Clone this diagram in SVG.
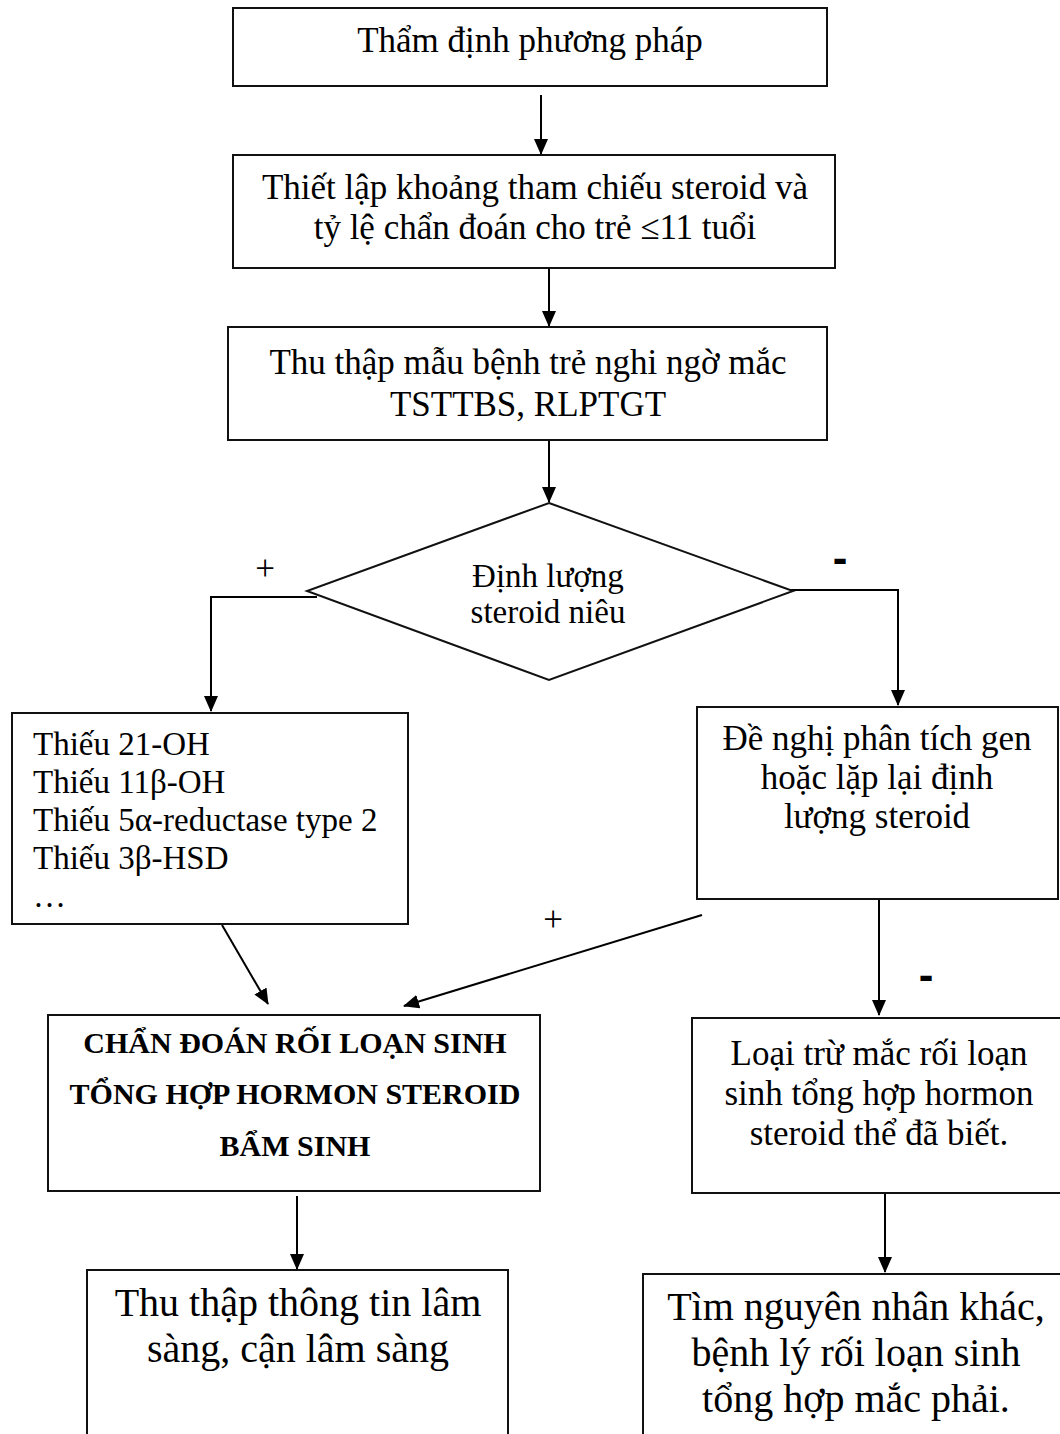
<svg xmlns="http://www.w3.org/2000/svg" width="1060" height="1434" viewBox="0 0 1060 1434">
<style>
.box{fill:#fff;stroke:#111;stroke-width:2}
.t{font-family:"Liberation Serif","Times New Roman",serif;fill:#000;text-anchor:middle}
.tl{font-family:"Liberation Serif","Times New Roman",serif;fill:#000;text-anchor:start}
.b{font-weight:bold}
.c{fill:none;stroke:#000;stroke-width:2}
.plus{font-family:"Liberation Serif","Times New Roman",serif;fill:#000;text-anchor:middle;font-size:35px}
.minus{font-family:"Liberation Sans",Arial,sans-serif;font-weight:bold;fill:#000;text-anchor:middle;font-size:44px}
</style>
<defs>
<marker id="ah" markerUnits="userSpaceOnUse" markerWidth="16" markerHeight="14" refX="15" refY="7" orient="auto">
<path d="M0,0 L16,7 L0,14 Z" fill="#000"/>
</marker>
</defs>
<rect width="1060" height="1434" fill="#fff"/>
<g id="connectors">
<line class="c" x1="541" y1="95" x2="541" y2="154" marker-end="url(#ah)"/>
<line class="c" x1="549" y1="268" x2="549" y2="326" marker-end="url(#ah)"/>
<line class="c" x1="549" y1="440" x2="549" y2="502" marker-end="url(#ah)"/>
<polyline class="c" points="317,597 211,597 211,711" marker-end="url(#ah)"/>
<polyline class="c" points="790,590 898,590 898,705" marker-end="url(#ah)"/>
<line class="c" x1="222" y1="925" x2="268" y2="1004" marker-end="url(#ah)"/>
<line class="c" x1="702" y1="915" x2="404" y2="1006" marker-end="url(#ah)"/>
<line class="c" x1="879" y1="899" x2="879" y2="1015" marker-end="url(#ah)"/>
<line class="c" x1="297" y1="1196" x2="297" y2="1269" marker-end="url(#ah)"/>
<line class="c" x1="885" y1="1193" x2="885" y2="1272" marker-end="url(#ah)"/>
<text class="plus" x="265" y="580">+</text>
<text class="minus" x="840" y="573">-</text>
<text class="plus" x="553" y="931">+</text>
<text class="minus" x="926" y="990">-</text>
</g>
<g id="n1">
<rect class="box" x="233" y="8" width="594" height="78"/>
<text class="t" x="530" y="52" font-size="35">Thẩm định phương pháp</text>
</g>
<g id="n2">
<rect class="box" x="233" y="155" width="602" height="113"/>
<text class="t" x="535" y="199" font-size="35">Thiết lập khoảng tham chiếu steroid và</text>
<text class="t" x="535" y="239" font-size="35">tỷ lệ chẩn đoán cho trẻ ≤11 tuổi</text>
</g>
<g id="n3">
<rect class="box" x="228" y="327" width="599" height="113"/>
<text class="t" x="528" y="374" font-size="35">Thu thập mẫu bệnh trẻ nghi ngờ mắc</text>
<text class="t" x="528" y="416" font-size="35">TSTTBS, RLPTGT</text>
</g>
<g id="n4">
<polygon class="box" points="549,503 793,591 549,680 307,591"/>
<text class="t" x="548" y="587" font-size="33">Định lượng</text>
<text class="t" x="548" y="623" font-size="33">steroid niêu</text>
</g>
<g id="n5">
<rect class="box" x="12" y="713" width="396" height="211"/>
<text class="tl" x="33" y="755" font-size="33">Thiếu 21-OH</text>
<text class="tl" x="33" y="793" font-size="33">Thiếu 11β-OH</text>
<text class="tl" x="33" y="831" font-size="33">Thiếu 5α-reductase type 2</text>
<text class="tl" x="33" y="869" font-size="33">Thiếu 3β-HSD</text>
<text class="tl" x="33" y="907" font-size="33">…</text>
</g>
<g id="n6">
<rect class="box" x="697" y="707" width="361" height="192"/>
<text class="t" x="877" y="750" font-size="35">Đề nghị phân tích gen</text>
<text class="t" x="877" y="789" font-size="35">hoặc lặp lại định</text>
<text class="t" x="877" y="828" font-size="35">lượng steroid</text>
</g>
<g id="n7">
<rect class="box" x="48" y="1015" width="492" height="176"/>
<text class="t b" x="295" y="1053" font-size="30">CHẨN ĐOÁN RỐI LOẠN SINH</text>
<text class="t b" x="295" y="1104" font-size="30">TỔNG HỢP HORMON STEROID</text>
<text class="t b" x="295" y="1156" font-size="30">BẨM SINH</text>
</g>
<g id="n8">
<rect class="box" x="692" y="1018" width="372" height="175"/>
<text class="t" x="879" y="1065" font-size="35">Loại trừ mắc rối loạn</text>
<text class="t" x="879" y="1105" font-size="35">sinh tổng hợp hormon</text>
<text class="t" x="879" y="1145" font-size="35">steroid thể đã biết.</text>
</g>
<g id="n9">
<rect class="box" x="87" y="1270" width="421" height="180"/>
<text class="t" x="298" y="1316" font-size="40">Thu thập thông tin lâm</text>
<text class="t" x="298" y="1362" font-size="40">sàng, cận lâm sàng</text>
</g>
<g id="n10">
<rect class="box" x="643" y="1274" width="425" height="180"/>
<text class="t" x="856" y="1320" font-size="40">Tìm nguyên nhân khác,</text>
<text class="t" x="856" y="1366" font-size="40">bệnh lý rối loạn sinh</text>
<text class="t" x="856" y="1412" font-size="40">tổng hợp mắc phải.</text>
</g>
</svg>
